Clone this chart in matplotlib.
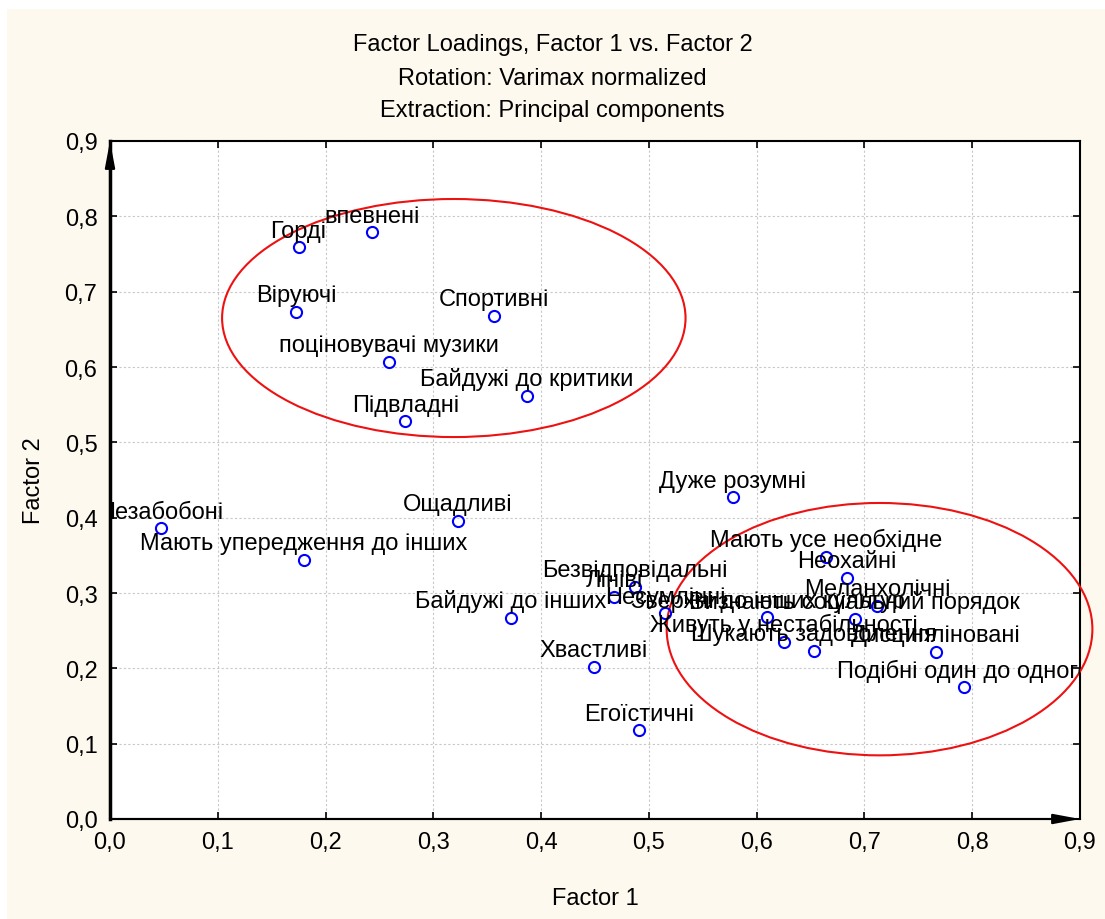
import matplotlib
matplotlib.use("Agg")
import matplotlib.pyplot as plt
from matplotlib.patches import Ellipse, Rectangle
from matplotlib.ticker import FuncFormatter

plt.rcParams['font.family'] = ['Liberation Sans', 'DejaVu Sans']

# Навантаження (Factor 1, Factor 2)
mitky = ["Горді", "впевнені", "Віруючі", "Спортивні", "поціновувачі музики",
         "Байдужі до критики", "Підвладні", "Незабобоні",
         "Мають упередження до інших", "Ощадливі", "Байдужі до інших",
         "Дуже розумні", "Хвастливі", "Егоїстичні", "Лініві",
         "Безвідповідальні", "Несумлінні", "Зверхні до інших культур",
         "Мають усе необхідне", "Неохайні", "Меланхолічні",
         "Визнають соціальний порядок", "Живуть у нестабільності",
         "Шукають задоволення", "Дисципліновані", "Подібні один до одного"]
factor1 = [0.175, 0.243, 0.173, 0.356, 0.259, 0.387, 0.274, 0.047,
           0.180, 0.323, 0.372, 0.578, 0.449, 0.491, 0.468,
           0.487, 0.515, 0.610, 0.664, 0.684, 0.712,
           0.691, 0.625, 0.653, 0.766, 0.792]
factor2 = [0.759, 0.779, 0.673, 0.668, 0.607, 0.562, 0.528, 0.386,
           0.344, 0.396, 0.267, 0.427, 0.202, 0.118, 0.295,
           0.308, 0.273, 0.268, 0.348, 0.320, 0.283,
           0.266, 0.235, 0.223, 0.222, 0.175]

# еліпси груп: центр (x, y), ширина, висота
elipsy = [((0.319, 0.665), 0.430, 0.316),
          ((0.714, 0.252), 0.395, 0.335)]

tloto = '#fef9ee'

fig = plt.figure(figsize=(11.05, 9.2), dpi=100)
fig.patch.set_facecolor('white')
fig.patches.append(Rectangle((7 / 1105, 0), 1, 910 / 920, transform=fig.transFigure,
                             facecolor=tloto, edgecolor='none', zorder=-10))
ax = fig.add_axes([110 / 1105, (920 - 820) / 920, 970 / 1105, 678 / 920])
ax.set_facecolor('white')

ax.set_xlim(0, 0.9)
ax.set_ylim(0, 0.9)
ticks = [i / 10 for i in range(10)]
ax.set_xticks(ticks)
ax.set_yticks(ticks)
fmt = FuncFormatter(lambda v, p: f"{v:.1f}".replace('.', ','))
ax.xaxis.set_major_formatter(fmt)
ax.yaxis.set_major_formatter(fmt)
ax.tick_params(direction='in', length=5, width=1.2, labelsize=17, top=True, right=True, pad=9)
ax.grid(True, color='#c8c8c8', linestyle=(0, (2, 2)), linewidth=0.8)
for s in ax.spines.values():
    s.set_linewidth(1.5)
ax.spines['left'].set_linewidth(2.5)

ax.plot(factor1, factor2, 'o', markerfacecolor='none', markeredgecolor='#0000ff',
        markersize=8, markeredgewidth=1.5, zorder=4)

for t, x, y in zip(mitky, factor1, factor2):
    ax.annotate(t, (x, y), xytext=(0, 4), textcoords='offset points',
                ha='center', va='bottom', fontsize=17, clip_on=True, zorder=5)

for (c, w, h) in elipsy:
    ax.add_patch(Ellipse(c, w, h, fill=False, edgecolor='#ee1111', linewidth=1.5,
                         clip_on=False, zorder=3))

# стрілки осей
ax.annotate('', xy=(0.0, 0.9), xytext=(0.0, 0.0),
            arrowprops=dict(arrowstyle='-|>,head_length=1.6,head_width=0.3',
                            color='black', lw=1.5, shrinkA=0, shrinkB=0), annotation_clip=False)
ax.annotate('', xy=(0.9, 0.0), xytext=(0.0, 0.0),
            arrowprops=dict(arrowstyle='-|>,head_length=1.6,head_width=0.3',
                            color='black', lw=1.5, shrinkA=0, shrinkB=0), annotation_clip=False)

ax.set_xlabel("Factor 1", fontsize=17, labelpad=24)
ax.set_ylabel("Factor 2", fontsize=17, labelpad=14)

fig.text(0.5, 1 - 45 / 920, "Factor Loadings, Factor 1 vs. Factor 2", ha='center', va='center',
         fontsize=17)
fig.text(0.5, 1 - 79 / 920, "Rotation: Varimax normalized", ha='center', va='center',
         fontsize=17)
fig.text(0.5, 1 - 111 / 920, "Extraction: Principal components", ha='center', va='center',
         fontsize=17)

fig.savefig("out.png", dpi=100, facecolor=fig.get_facecolor())
